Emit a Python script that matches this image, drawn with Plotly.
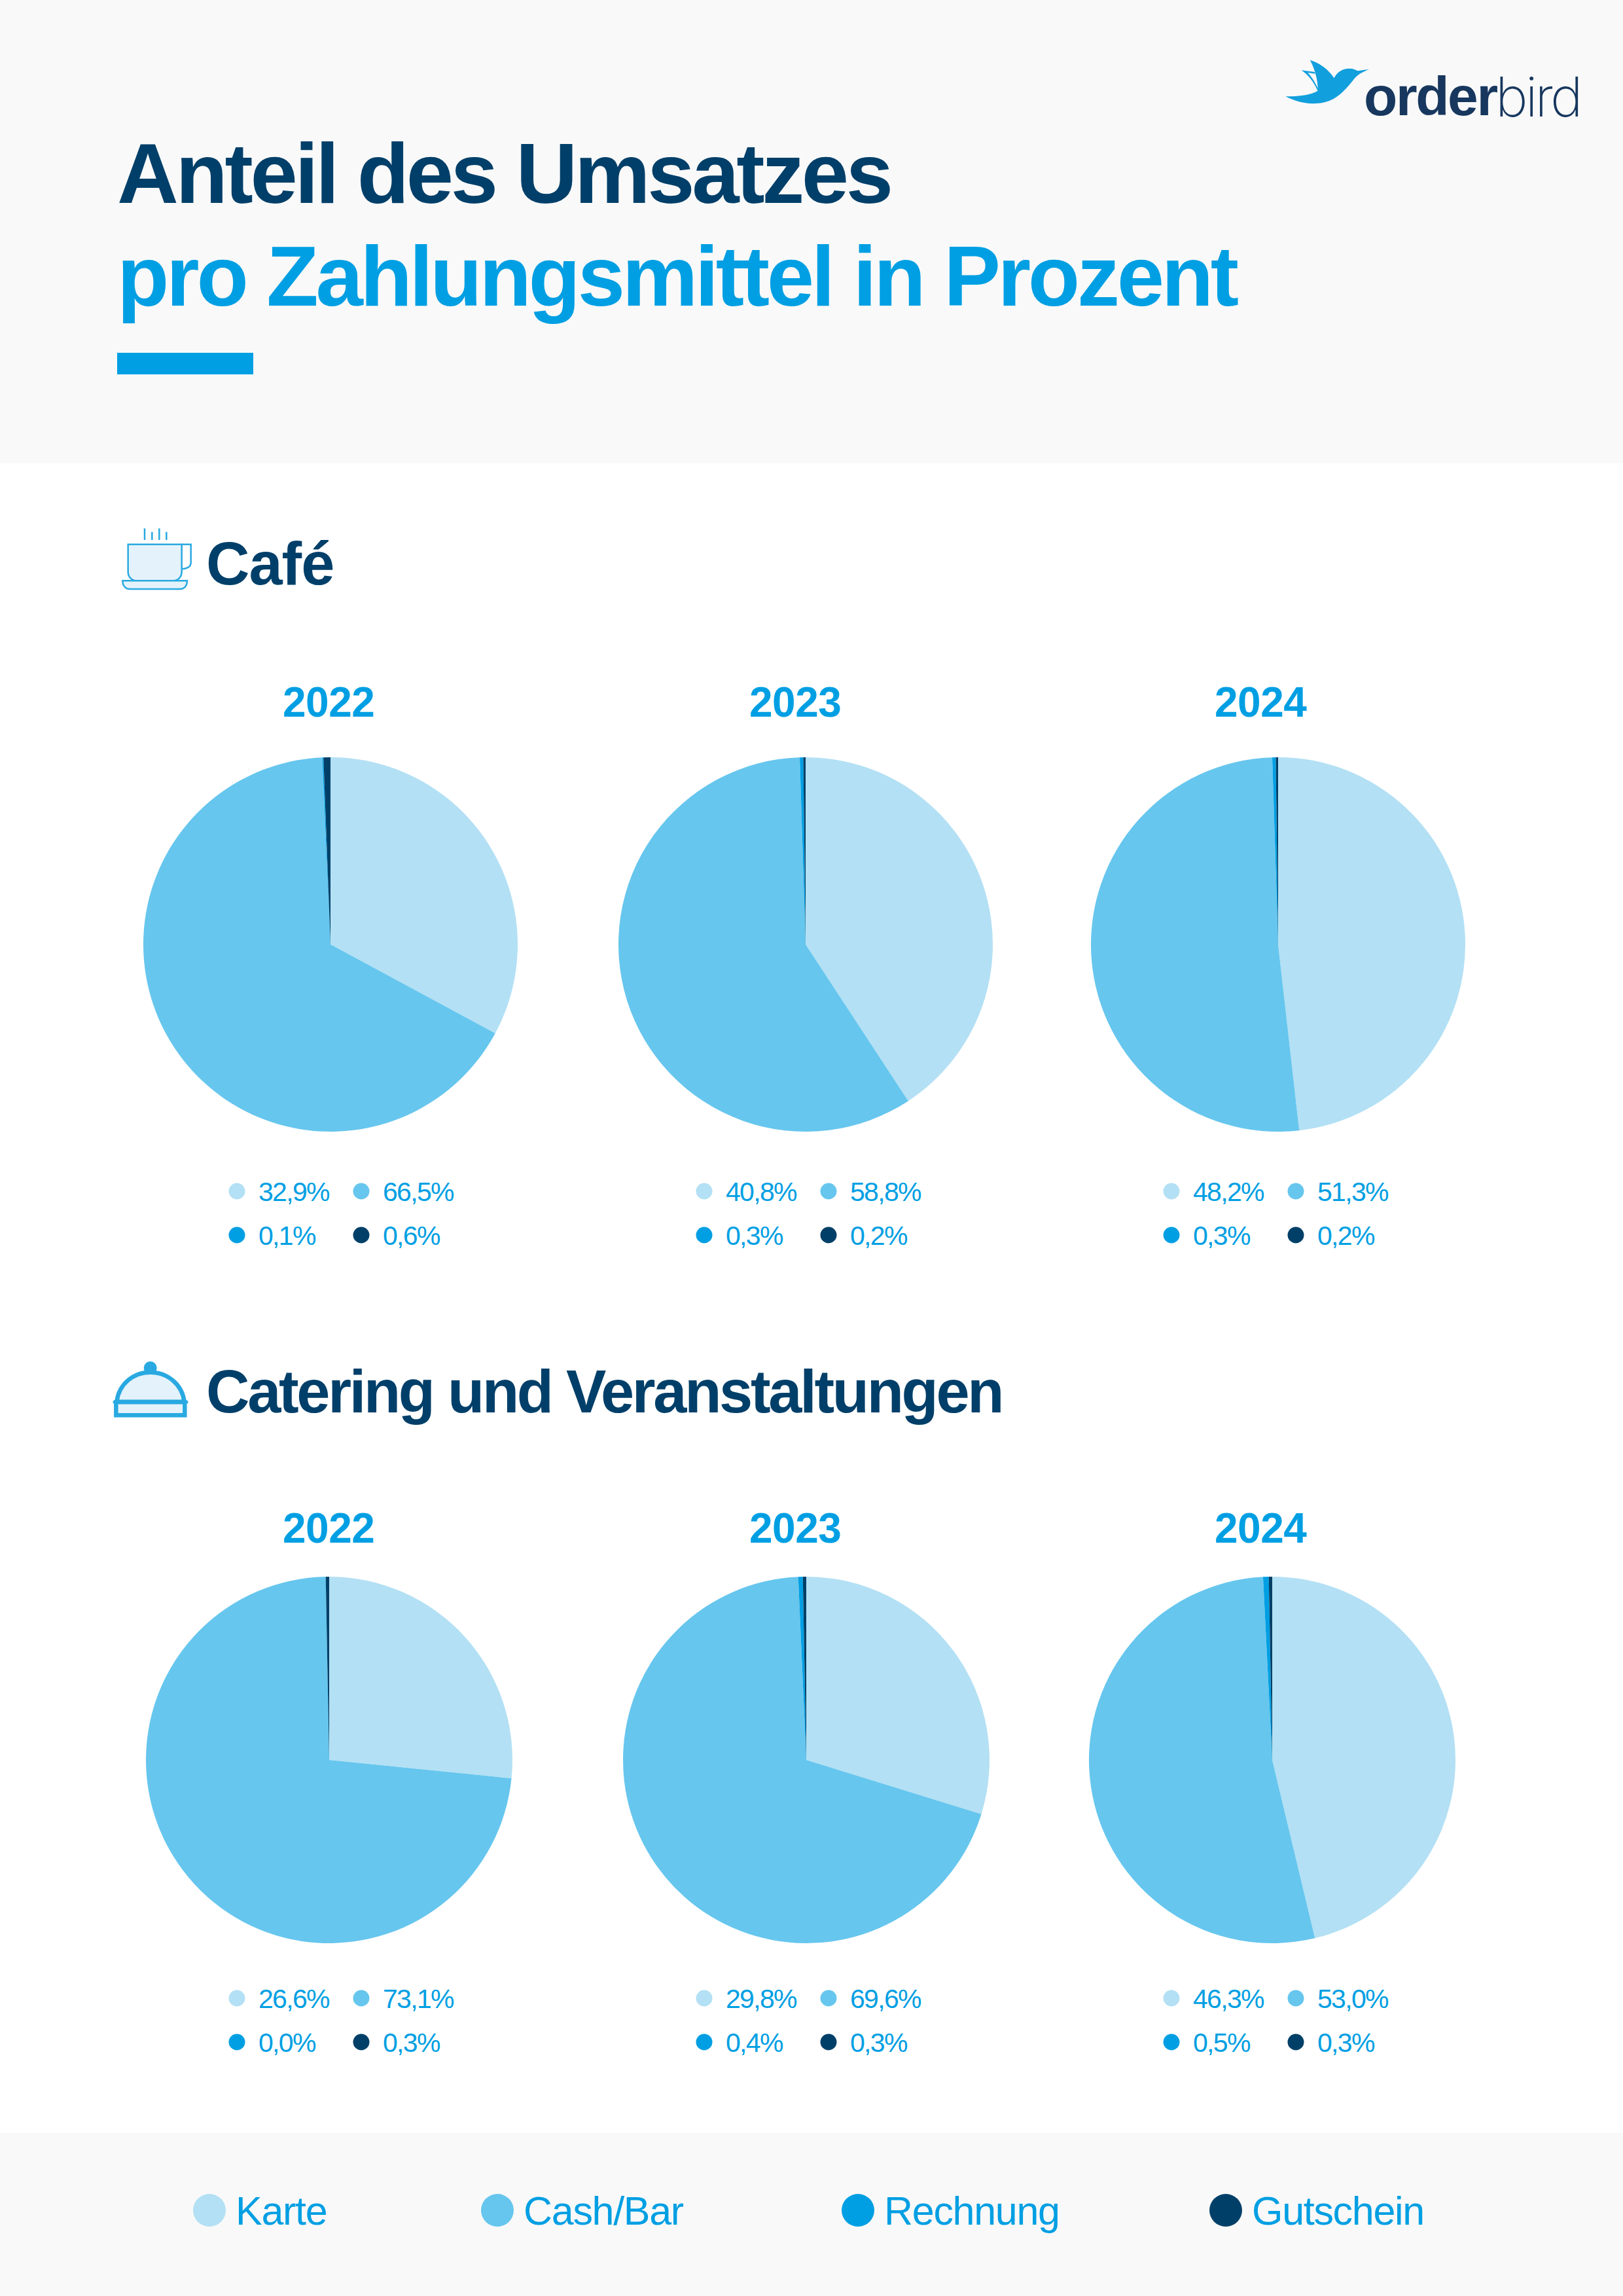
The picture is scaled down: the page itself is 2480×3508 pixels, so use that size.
import plotly.graph_objects as go

W = 2480
H = 3508

categories = ["Karte", "Cash/Bar", "Rechnung", "Gutschein"]
colors = ["#b3e0f4", "#66c6ee", "#009fe3", "#004068"]
years = ["2022", "2023", "2024"]

cafe_2022 = [32.9, 66.5, 0.1, 0.6]
cafe_2023 = [40.8, 58.8, 0.3, 0.2]
cafe_2024 = [48.2, 51.3, 0.3, 0.2]
catering_2022 = [26.6, 73.1, 0.0, 0.3]
catering_2023 = [29.8, 69.6, 0.4, 0.3]
catering_2024 = [46.3, 53.0, 0.5, 0.3]

DARK = "#003f69"
BLUE = "#009fe3"
ICON = "#29a9e1"
ICON_FILL = "#e4f2fb"
FONT = "Liberation Sans"

fig = go.Figure()
shapes = []
annotations = []


def fx(x):
    return x / W


def fy(y):
    return 1 - y / H


def rect(x0, y0, x1, y1, color):
    shapes.append(dict(type="rect", xref="paper", yref="paper", x0=fx(x0), x1=fx(x1),
                       y0=fy(y0), y1=fy(y1), fillcolor=color, line_width=0, layer="below"))


def dot(cx, cy, r, color):
    shapes.append(dict(type="circle", xref="paper", yref="paper", x0=fx(cx - r), x1=fx(cx + r),
                       y0=fy(cy - r), y1=fy(cy + r), fillcolor=color, line_width=0))


# icons are traced in zoom pixels, ox/oy is where that crop started
def icon_path(d, ox, oy, fill=None, stroke=None, width=0, sx=3):
    out = []
    is_x = True
    for tok in d.split():
        if tok.isalpha():
            out.append(tok)
            is_x = True
        elif is_x:
            out.append(str(fx(ox + float(tok) / sx)))
            is_x = False
        else:
            out.append(str(fy(oy + float(tok) / 3)))
            is_x = True
    shapes.append(dict(type="path", xref="paper", yref="paper", path=" ".join(out),
                       fillcolor=fill if fill else "rgba(0,0,0,0)",
                       line=dict(color=stroke if stroke else "rgba(0,0,0,0)", width=width)))


def text(x, y, s, size, color, bold=False, anchor="left", spacing=0, family=FONT, weight=None):
    label = f'<span style="letter-spacing:{spacing}px">{s}</span>' if spacing else s
    annotations.append(dict(x=fx(x), y=fy(y), xref="paper", yref="paper", text=label, showarrow=False,
                            xanchor=anchor, yanchor="middle", borderpad=0, borderwidth=0,
                            font=dict(family=family, size=size, color=color,
                                      weight=weight if weight else (700 if bold else 400))))


def add_pie(values, cx, cy, r):
    fig.add_trace(go.Pie(labels=categories, values=values, sort=False, direction="clockwise",
                         rotation=0, textinfo="none", showlegend=False,
                         marker=dict(colors=colors, line=dict(width=0)),
                         domain=dict(x=[fx(cx - r), fx(cx + r)], y=[fy(cy + r), fy(cy - r)])))


def pct(v):
    return f"{v:.1f}%".replace(".", ",")


def add_block(series, centers, cy, r, year_y, row1, row2):
    dots_x = [(362, 552), (1076, 1266), (1790, 1980)]
    year_x = [502, 1215, 1926]
    for i, values in enumerate(series):
        add_pie(values, centers[i], cy, r)
        text(year_x[i], year_y, years[i], 64, BLUE, bold=True, anchor="center", spacing=-0.5)
        spots = [(dots_x[i][0], row1), (dots_x[i][1], row1), (dots_x[i][0], row2), (dots_x[i][1], row2)]
        for j, (dx, dy) in enumerate(spots):
            dot(dx, dy, 12.5, colors[j])
            text(dx + 33, dy + 1, pct(values[j]), 41, BLUE, spacing=-1.7)


# background bands
rect(0, 0, W, 708, "#f9f9f9")
rect(0, 3259, W, H, "#f9f9f9")
rect(179, 539, 387, 572, BLUE)

# title
text(179, 265, "Anteil des Umsatzes", 130, DARK, bold=True, spacing=-4.35)
text(179, 422, "pro Zahlungsmittel in Prozent", 130, BLUE, bold=True, spacing=-4.3)

# logo, that crop came back 2.8x wide and 3x high
icon_path("M 180 262 C 240 262 290 255 318 236 C 320 200 310 145 285 95 C 330 110 365 140 388 178 "
          "C 400 150 425 133 455 134 C 470 134 480 140 490 145 L 538 137 C 510 150 490 160 475 180 "
          "C 430 240 390 295 300 295 C 255 296 215 280 180 262 Z", 1900, 60, fill="#129fdd", sx=2.8)
icon_path("M 248 142 L 305 150 L 307 158 L 275 153 C 295 175 310 205 322 232 L 318 236 "
          "C 300 195 280 165 248 142 Z", 1900, 60, fill="#129fdd", sx=2.8)
text(2084, 147, "order", 84, "#17375e", bold=True, spacing=-2.4)
text(2285, 147, "bird", 84, "#17375e", family="Inter", weight=200, spacing=-4)

# cafe icon
icon_path("M 137 155 L 383 155 L 383 282 C 383 305 365 322 342 322 L 178 322 C 155 322 137 305 137 282 Z",
          150, 780, fill=ICON_FILL, stroke=ICON, width=2.5)
icon_path("M 383 155 L 425 155 L 425 240 C 425 258 405 268 383 268", 150, 780, stroke=ICON, width=2.5)
icon_path("M 112 322 L 408 322 C 408 345 395 360 375 360 L 145 360 C 125 360 112 345 112 322 Z",
          150, 780, fill=ICON_FILL, stroke=ICON, width=2.5)
for sx, sy in [(213, 82), (247, 98), (280, 82), (313, 98)]:
    icon_path(f"M {sx} {sy} L {sx} 135", 150, 780, stroke=ICON, width=2.5)

# catering icon
icon_path("M 85 245 C 95 165 160 110 239 110 C 318 110 385 165 395 245 Z",
          150, 2060, fill=ICON_FILL, stroke=ICON, width=6.5)
icon_path("M 82 247 L 397 247 L 397 307 L 82 307 Z", 150, 2060, fill=ICON_FILL, stroke=ICON, width=6.5)
icon_path("M 68 247 L 412 247", 150, 2060, stroke=ICON, width=4)
dot(150 + 239 / 3, 2060 + 90 / 3, 10, ICON)

# cafe section
text(315, 861, "Café", 92, DARK, bold=True, spacing=-1)
add_block([cafe_2022, cafe_2023, cafe_2024], [505, 1231, 1953], 1443, 286, 1073, 1820, 1887)

# catering section
text(315, 2126, "Catering und Veranstaltungen", 92, DARK, bold=True, spacing=-3.3)
add_block([catering_2022, catering_2023, catering_2024], [503, 1232, 1944], 2689, 280, 2335, 3053, 3120)

# legend at the bottom
legend_dots = [320, 760, 1311, 1873]
for lx, name, col in zip(legend_dots, categories, colors):
    dot(lx, 3377, 25, col)
    text(lx + 40, 3378, name, 61, BLUE, spacing=-1.3)

fig.update_layout(width=W, height=H, margin=dict(l=0, r=0, t=0, b=0), autosize=False,
                  paper_bgcolor="white", plot_bgcolor="white",
                  shapes=shapes, annotations=annotations)

fig.write_html("out.html", config=dict(displayModeBar=False),
               post_script="document.body.style.margin = '0';")
